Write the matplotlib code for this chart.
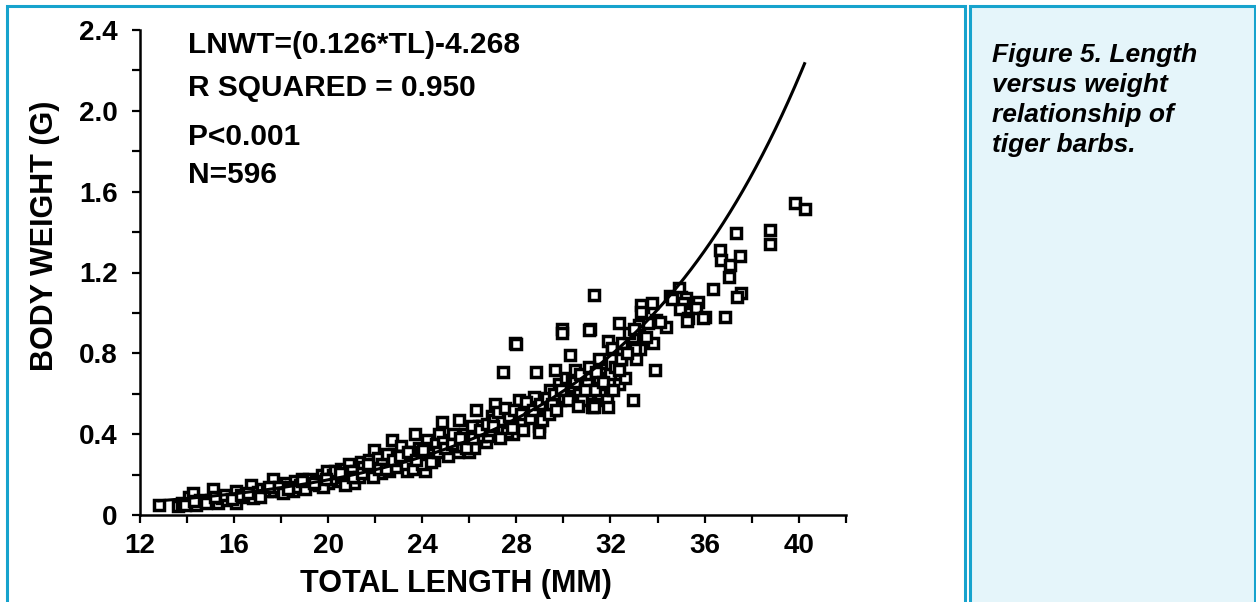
import numpy as np
import matplotlib
matplotlib.use("Agg")
import matplotlib.pyplot as plt
from matplotlib.patches import Rectangle

plt.rcParams['font.family'] = ['Liberation Sans', 'DejaVu Sans']

# -------------------------------
# Data
# -------------------------------
total_length_mm = [
    12.8, 13.6, 13.8, 14.1, 14.25, 14.4, 14.55, 15.0, 15.1, 15.3, 15.5, 15.7, 16.1, 16.1,
    16.45, 16.7, 16.8, 17.0, 17.2, 17.4, 17.65, 17.7, 18.0, 18.2, 18.4, 18.6, 18.8, 18.9,
    19.1, 19.3, 19.6, 19.75, 19.95, 20.0, 20.2, 20.4, 20.55, 20.8, 20.9, 21.1, 21.2, 21.4,
    21.6, 21.75, 21.95, 22.0, 22.25, 22.4, 22.6, 22.7, 22.8, 23.0, 23.1, 23.35, 23.55, 23.7,
    23.85, 24.1, 24.2, 24.4, 24.7, 24.85, 25.0, 25.2, 25.5, 25.55, 25.8, 26.0, 26.3, 26.4,
    26.7, 26.95,
    13.9, 14.3, 14.8, 15.2, 15.6, 15.9, 16.3, 16.6, 17.1, 17.5, 17.9, 18.1, 18.5, 18.7,
    19.0, 19.2, 19.5, 19.8, 20.1, 20.3, 20.6, 20.7, 21.0, 21.3, 21.5, 21.8, 21.9, 22.1,
    22.3, 22.5, 22.9, 23.2, 23.3, 23.5, 23.6, 23.9, 24.0, 24.3, 24.5, 24.6, 24.9, 25.1,
    25.3, 25.4, 25.7, 25.9, 26.1, 26.2, 26.5, 26.55, 26.8, 26.9,
    18.3, 18.9, 19.4, 19.9, 20.5, 21.05, 21.45, 21.7, 22.15, 22.45, 22.75, 23.05, 23.4, 23.75,
    24.05, 24.35, 24.65, 24.95, 25.25, 25.6, 25.85, 26.15, 26.45, 26.75, 27.05, 27.35, 27.65,
    27.85, 28.15, 28.45, 28.8, 29.15, 29.55, 29.85, 30.15, 30.45, 30.75, 31.05, 31.25, 31.55,
    27.1, 27.4, 27.6, 27.7, 27.95, 28.1, 28.25, 28.5, 28.75, 28.85, 28.95, 28.95, 29.25,
    29.45, 29.65, 29.8, 29.95, 29.95, 30.0, 30.1, 30.3, 30.35, 30.4, 30.5, 30.65, 30.8,
    30.95, 31.0, 31.15, 31.2, 31.35, 31.5, 31.6, 31.85, 31.9, 31.9, 32.0, 32.05, 32.2,
    32.35, 32.35, 32.45, 32.6, 32.95, 32.95, 33.1, 33.2, 33.25, 33.4, 33.8, 33.9, 33.95,
    34.35,
    27.45, 28.0, 31.3, 31.1, 33.3, 33.75, 33.3, 33.05, 32.05, 31.5, 32.45, 32.35, 31.3, 34.1,
    27.0, 27.2, 27.3, 27.5, 27.8, 27.9, 28.2, 28.3, 28.4, 28.6, 28.7, 29.0, 29.1, 29.3,
    29.4, 29.5, 29.6, 29.7, 29.9, 30.2, 30.5, 30.6, 30.7, 30.9, 31.1, 31.4, 31.7, 32.1,
    32.5, 32.7, 32.8, 33.0, 33.5, 33.6,
    34.55, 34.9, 35.0, 35.2, 35.1, 35.7, 35.65, 34.95, 36.0, 36.85, 35.3, 35.25, 35.95,
    36.35, 36.65, 36.7, 37.1, 37.05, 37.35, 37.5, 37.55, 37.4, 38.8, 38.8, 39.85, 40.25,
    34.6,
]
body_weight_g = [
    0.05, 0.045, 0.06, 0.09, 0.11, 0.05, 0.075, 0.075, 0.13, 0.06, 0.085, 0.075, 0.12, 0.06,
    0.09, 0.15, 0.085, 0.115, 0.13, 0.12, 0.18, 0.12, 0.12, 0.16, 0.14, 0.17, 0.15, 0.18,
    0.16, 0.155, 0.15, 0.2, 0.22, 0.16, 0.2, 0.17, 0.23, 0.2, 0.25, 0.16, 0.22, 0.26,
    0.21, 0.27, 0.32, 0.24, 0.21, 0.26, 0.22, 0.37, 0.3, 0.26, 0.34, 0.22, 0.26, 0.4,
    0.33, 0.22, 0.37, 0.29, 0.4, 0.46, 0.32, 0.37, 0.31, 0.47, 0.4, 0.31, 0.52, 0.44,
    0.36, 0.49,
    0.05, 0.07, 0.06, 0.09, 0.1, 0.08, 0.1, 0.11, 0.09, 0.14, 0.14, 0.11, 0.12, 0.14,
    0.13, 0.18, 0.17, 0.14, 0.18, 0.22, 0.19, 0.15, 0.22, 0.19, 0.24, 0.23, 0.19, 0.28,
    0.25, 0.3, 0.24, 0.29, 0.25, 0.31, 0.23, 0.28, 0.25, 0.33, 0.27, 0.35, 0.36, 0.29,
    0.40, 0.34, 0.34, 0.37, 0.44, 0.33, 0.39, 0.44, 0.39, 0.42,
    0.13, 0.17, 0.16, 0.18, 0.21, 0.19, 0.21, 0.25, 0.23, 0.23, 0.27, 0.29, 0.31, 0.27,
    0.32, 0.26, 0.31, 0.33, 0.35, 0.38, 0.33, 0.38, 0.42, 0.45, 0.47, 0.43, 0.46,
    0.40, 0.45, 0.50, 0.49, 0.55, 0.52, 0.57, 0.63, 0.58, 0.64, 0.60, 0.68, 0.60,
    0.55, 0.47, 0.41, 0.49, 0.85, 0.57, 0.47, 0.535, 0.585, 0.71, 0.44, 0.41, 0.52,
    0.62, 0.72, 0.65, 0.92, 0.90, 0.585, 0.68, 0.79, 0.67, 0.64, 0.72, 0.6, 0.57,
    0.68, 0.65, 0.92, 0.535, 0.62, 0.68, 0.75, 0.57, 0.535, 0.86, 0.70, 0.82, 0.73,
    0.65, 0.95, 0.77, 0.68, 0.57, 0.88, 0.77, 0.94, 0.82, 1.03, 0.85, 0.72, 0.965,
    0.93,
    0.71, 0.845, 1.09, 0.915, 1.04, 1.05, 1.005, 0.82, 0.825, 0.77, 0.77, 0.72, 0.535, 0.955,
    0.44, 0.51, 0.38, 0.53, 0.43, 0.52, 0.50, 0.42, 0.56, 0.48, 0.52, 0.55, 0.47, 0.58,
    0.50, 0.55, 0.60, 0.52, 0.62, 0.57, 0.66, 0.54, 0.70, 0.62, 0.73, 0.71, 0.66, 0.62,
    0.85, 0.80, 0.90, 0.92, 0.88, 0.95,
    1.085, 1.125, 1.08, 1.075, 1.05, 1.055, 1.025, 1.02, 0.98, 0.98, 0.975, 0.96, 0.975,
    1.12, 1.31, 1.26, 1.235, 1.18, 1.395, 1.28, 1.10, 1.08, 1.41, 1.34, 1.545, 1.515,
    1.07,
]

# regression printed on the chart: LNWT = (0.126*TL) - 4.268
slope = 0.126
intercept = -4.268
fit_range = (12.8, 40.25)

annotation_lines = ["LNWT=(0.126*TL)-4.268", "R SQUARED = 0.950", "P<0.001", "N=596"]
caption_lines = ["Figure 5. Length", "versus weight", "relationship of", "tiger barbs."]

W, H = 1256, 602
border_color = '#17a3cd'
panel_fill = '#e5f5fa'

fig = plt.figure(figsize=(W / 100, H / 100), dpi=100)

# -------------------------------
# Panel frames
# -------------------------------
fig.patches.append(Rectangle((7 / W, -0.1), (964.5 - 7) / W, 1.1 - 6 / H, transform=fig.transFigure,
                             fill=False, edgecolor=border_color, linewidth=2.2, zorder=0))
fig.patches.append(Rectangle((970.5 / W, -0.1), (1254.5 - 970.5) / W, 1.1 - 6 / H, transform=fig.transFigure,
                             facecolor=panel_fill, edgecolor=border_color, linewidth=2.2, zorder=0))

# -------------------------------
# Scatter plot
# -------------------------------
ax = fig.add_axes([140 / W, 1 - 515 / H, (845.7 - 140) / W, (515 - 30) / H])
ax.patch.set_alpha(0)

ax.plot(total_length_mm, body_weight_g, linestyle='none', marker='s', markersize=7.5,
        markerfacecolor='white', markeredgecolor='black', markeredgewidth=2.5, zorder=2)

tl = np.linspace(fit_range[0], fit_range[1], 200)
ax.plot(tl, np.exp(slope * tl + intercept), color='black', linewidth=2.2, zorder=3)

ax.set_xlim(12, 42)
ax.set_ylim(0, 2.4)
ax.set_xticks(np.arange(12, 43, 2))
ax.set_xticklabels([str(v) if v % 4 == 0 and v <= 40 else '' for v in range(12, 43, 2)])
ax.set_yticks(np.arange(0, 2.41, 0.2))
ax.set_yticklabels(['0' if i == 0 else ('%.1f' % (i * 0.2) if i % 2 == 0 else '') for i in range(13)])

for s in ['top', 'right']:
    ax.spines[s].set_visible(False)
for s in ['left', 'bottom']:
    ax.spines[s].set_linewidth(1.8)
ax.tick_params(direction='out', length=6, width=1.6, labelsize=20)
ax.tick_params(axis='y', pad=10)
ax.tick_params(axis='x', pad=7)
for lbl in ax.get_xticklabels() + ax.get_yticklabels():
    lbl.set_fontweight('bold')

ax.set_xlabel("TOTAL LENGTH (MM)", fontsize=22, fontweight='bold', va='center')
ax.xaxis.set_label_coords(0.448, -0.142)
ax.set_ylabel("BODY WEIGHT (G)", fontsize=22, fontweight='bold', va='center')
ax.yaxis.set_label_coords(-0.135, 0.575)

# -------------------------------
# Texts
# -------------------------------
for line, base in zip(annotation_lines, [53, 96, 145, 183]):
    fig.text(188 / W, 1 - base / H, line, fontsize=21.5, fontweight='bold', va='baseline', ha='left')

for line, base in zip(caption_lines, [62, 92, 122, 152]):
    fig.text(992 / W, 1 - base / H, line, fontsize=19, fontweight='bold', fontstyle='italic',
             va='baseline', ha='left')

fig.savefig('out.png', dpi=100)
